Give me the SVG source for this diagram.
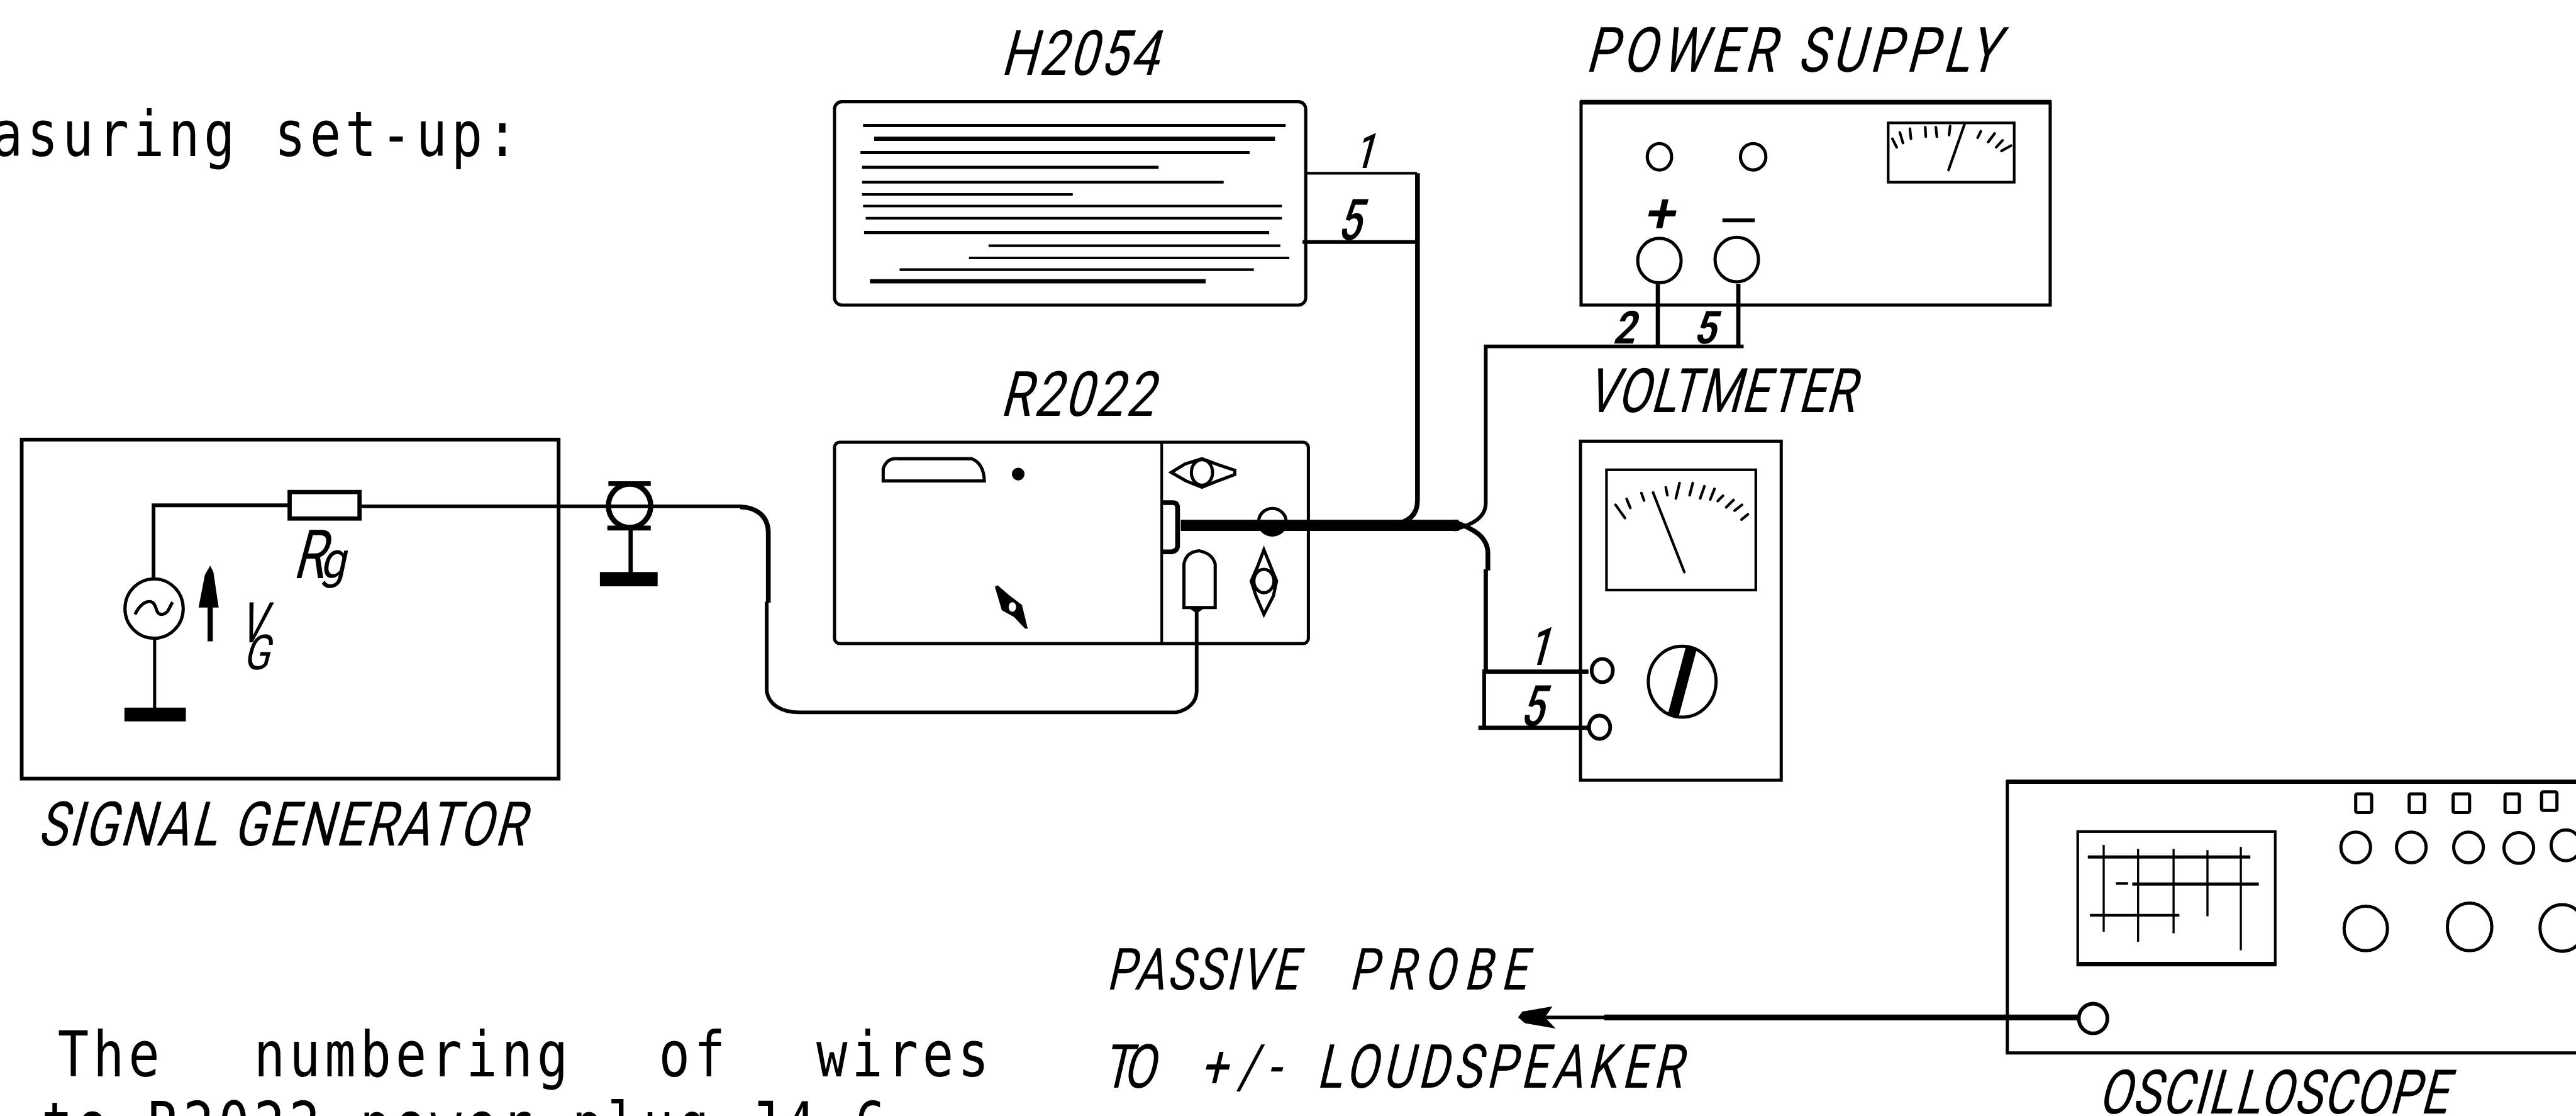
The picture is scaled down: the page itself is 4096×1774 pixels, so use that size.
<svg xmlns="http://www.w3.org/2000/svg" width="4096" height="1774" viewBox="0 0 4096 1774">
<style>
.o{fill:none;stroke:#000;stroke-width:6}
.w{fill:none;stroke:#000;stroke-width:7}
.f{fill:#000;stroke:none}
.l{stroke:#000;stroke-width:5;fill:none}
.t{stroke:#000;stroke-width:5;fill:none;stroke-linecap:round}
.hw{font-family:Roboto,"Liberation Sans",Arial,sans-serif;fill:#000}
.m{font-family:"DejaVu Sans Mono",monospace;font-size:111px;letter-spacing:9.1px;fill:#000}
</style>
<rect width="4096" height="1774" fill="#fff"/>
<g transform="scale(0.84193)">
<g id="notes" transform="scale(.88,1.06)">
<text class="m" x="-18" y="278.3">asuring set-up:</text>
<text class="m" y="1917"><tspan x="124">The</tspan> <tspan x="545">numbering</tspan> <tspan x="1414">of</tspan> <tspan x="1752">wires</tspan></text>
<text class="m" x="89" y="2042.5">to R2022 power plug J4 6</text>
</g>
<g id="connectors">
<path class="w" d="M290 1095V954H547"/>
<path class="w" stroke-width="6" d="M679 956H1400"/>
<path d="M1398 957C1430 958 1451 975 1451 1006V1138" fill="none" stroke="#000" stroke-width="9"/>
<path d="M1448 1136V1305C1452 1330 1475 1345 1510 1345H2222C2245 1340 2260 1325 2260 1305V1150" fill="none" stroke="#000" stroke-width="7"/>
<path d="M2464 327H2676" fill="none" stroke="#000" stroke-width="5"/>
<path d="M2460 457H2676" class="w"/>
<path d="M2677 327V945Q2677 985 2630 990" fill="none" stroke="#000" stroke-width="9"/>
<path d="M2230 992H2755" fill="none" stroke="#000" stroke-width="21"/>
<path class="w" stroke-width="8" d="M2745 1000C2785 990 2806 975 2806 950V654H3293"/>
<path d="M3131 654V536M3283 654V536" fill="none" stroke="#000" stroke-width="8"/>
<path d="M2745 985C2785 998 2810 1015 2810 1045V1077" fill="none" stroke="#000" stroke-width="9"/>
<path d="M2806 1075V1268H3000" fill="none" stroke="#000" stroke-width="8"/>
<path d="M2803 1264V1374" fill="none" stroke="#000" stroke-width="7"/>
<path d="M2792 1374H3000" fill="none" stroke="#000" stroke-width="8"/>
<path d="M2910 1921H3040" fill="none" stroke="#000" stroke-width="7"/>
<path d="M3030 1921H3925" fill="none" stroke="#000" stroke-width="11"/>
<path class="f" d="M2867 1921L2875 1910L2932 1900L2918 1921L2938 1942L2880 1932Z"/>
</g>
<g id="signal-generator">
<rect class="w" x="41" y="830" width="1014" height="640"/>
<rect x="547" y="929" width="132" height="50" fill="#fff" stroke="#000" stroke-width="8"/>
<ellipse class="o" cx="291" cy="1149" rx="55" ry="56" stroke-width="7"/>
<path d="M255 1160C265 1140 275 1135 285 1136C298 1140 292 1160 305 1160C318 1160 320 1145 326 1137" fill="none" stroke="#000" stroke-width="6"/>
<path d="M292 1205V1340" fill="none" stroke="#000" stroke-width="6"/>
<rect class="f" x="235" y="1336" width="116" height="26"/>
<path class="f" d="M397 1068L403 1080L413 1147H402V1211H392V1147H375L387 1085Z"/>
<text class="hw" transform="translate(552,1091) skewX(-15) scale(.76,1)" font-size="128">R</text>
<text class="hw" transform="translate(604,1090) skewX(-12) scale(.9,1)" font-size="96">g</text>
<text class="hw" transform="translate(450,1213) skewX(-15) scale(.72,1)" font-size="106">V</text>
<text class="hw" transform="translate(458,1264) skewX(-15) scale(.8,1)" font-size="92">G</text>
</g>
<g id="bnc-connector">
<ellipse cx="1189" cy="955" rx="40" ry="41" fill="none" stroke="#000" stroke-width="10"/>
<path d="M1149 913H1229M1147 997H1229" fill="none" stroke="#000" stroke-width="9"/>
<path d="M1191 1000V1085" fill="none" stroke="#000" stroke-width="8"/>
<rect class="f" x="1133" y="1080" width="109" height="27"/>
</g>
<text class="hw" transform="translate(70,1596) skewX(-15) scale(.8,1)" font-size="116" textLength="1150">SIGNAL GENERATOR</text>
<g id="h2054">
<text class="hw" transform="translate(1889,141) skewX(-15) scale(.8,1)" font-size="118" textLength="371">H2054</text>
<rect class="o" x="1576" y="192" width="890" height="384" rx="14"/>
<path fill="none" stroke="#000" stroke-width="6" d="M1630 237H2428M1625 288H2360M1628 316H2188M1632 439H2397"/>
<path fill="none" stroke="#000" stroke-width="8" d="M1651 262H2408M1643 531H2277"/>
<path fill="none" stroke="#000" stroke-width="5" d="M1628 344H2311M1628 367H2026M1630 389H2421M1635 412H2421M1867 464H2418M1830 487H2435M1699 509H2368"/>
<text class="hw" transform="translate(2556,317) skewX(-15) scale(.72,1)" font-size="92" font-weight="500">1</text>
<text class="hw" transform="translate(2525,452) skewX(-15) scale(.72,1)" font-size="108" font-weight="500">5</text>
</g>
<g id="r2022">
<text class="hw" transform="translate(1888,785) skewX(-15) scale(.8,1)" font-size="118" textLength="362">R2022</text>
<rect class="o" x="1576" y="835" width="895" height="380" rx="10"/>
<path class="l" d="M2194 835V1215"/>
<path class="o" stroke-width="8" d="M1668 908V885Q1675 864 1695 866H1835Q1858 875 1859 908Z"/>
<ellipse class="f" cx="1923" cy="895" rx="12" ry="12"/>
<path class="f" d="M1879 1108L1884 1105L1906 1124L1930 1142L1941 1187L1936 1187L1915 1165L1892 1152Z"/>
<ellipse cx="1912" cy="1146" rx="7" ry="9" fill="#fff"/>
<path class="o" stroke-width="7" d="M2212 892L2238 876L2270 866L2302 878L2332 888V896L2300 908L2270 920L2240 908Z"/>
<ellipse class="o" cx="2270" cy="892" rx="20" ry="24" stroke-width="7"/>
<path d="M2196 949H2215Q2224 949 2224 960V1030Q2224 1040 2212 1042H2196" fill="none" stroke="#000" stroke-width="9"/>
<ellipse class="o" cx="2403" cy="985" rx="26" ry="25"/>
<path class="f" d="M2380 1000L2403 1013L2426 1000Z"/>
<path class="o" stroke-width="8" d="M2236 1147V1065Q2240 1042 2265 1040Q2290 1045 2295 1065V1147Z"/>
<path class="f" d="M2245 1148L2260 1158L2275 1148Z"/>
<path class="o" stroke-width="7" d="M2387 1038L2402 1075L2411 1097L2405 1125L2387 1160L2372 1125L2363 1097L2375 1070Z"/>
<ellipse class="o" cx="2387" cy="1097" rx="19" ry="22" stroke-width="7"/>
</g>
<g id="power-supply">
<text class="hw" transform="translate(2993,135) skewX(-15) scale(.8,1)" font-size="118" textLength="975">POWER SUPPLY</text>
<rect class="o" x="2986" y="193" width="886" height="383"/>
<path d="M2984 193H3874" stroke="#000" stroke-width="9"/>
<ellipse class="o" cx="3134" cy="296" rx="23" ry="25"/>
<ellipse class="o" cx="3311" cy="296" rx="24" ry="25"/>
<text class="hw" transform="translate(3103,438) skewX(-12)" font-size="105" font-weight="500">+</text>
<path d="M3253 416H3314" stroke="#000" stroke-width="7" fill="none"/>
<ellipse class="o" cx="3134" cy="492" rx="41" ry="42"/>
<ellipse class="o" cx="3280" cy="490" rx="41" ry="42"/>
<rect class="l" x="3566" y="232" width="238" height="112"/>
<path class="t" stroke-width="5" d="M3710 235L3680 321"/>
<path class="t" stroke-width="4" d="M3574 262L3582 278M3588 250L3594 270M3607 243L3609 262M3636 240L3637 258M3656 240L3658 258M3683 238L3681 255M3741 248L3735 260M3767 252L3755 268M3782 265L3770 278M3798 275L3780 285"/>
<text class="hw" transform="translate(3045,649) skewX(-15) scale(.85,1)" font-size="86" font-weight="700">2</text>
<text class="hw" transform="translate(3198,649) skewX(-15) scale(.85,1)" font-size="86" font-weight="700">5</text>
</g>
<g id="voltmeter">
<text class="hw" transform="translate(2995,778) skewX(-15) scale(.78,1)" font-size="116" textLength="650">VOLTMETER</text>
<rect class="o" x="2985" y="833" width="379" height="640"/>
<rect class="l" x="3034" y="887" width="282" height="227"/>
<path class="t" stroke-width="6" d="M3122 930L3181 1080"/>
<path class="t" stroke-width="4" d="M3051 953L3069 978M3072 942L3079 959M3100 931L3105 945M3146 920L3149 935M3172 912L3165 941M3197 912L3191 935M3219 918L3211 941M3238 923L3230 943M3254 936L3244 946M3274 944L3260 958M3290 953L3276 964M3301 971L3289 981"/>
<ellipse cx="3026" cy="1266" rx="20" ry="22" fill="#fff" stroke="#000" stroke-width="7"/>
<ellipse cx="3021" cy="1373" rx="20" ry="22" fill="#fff" stroke="#000" stroke-width="7"/>
<ellipse class="o" cx="3177" cy="1287" rx="64" ry="67" stroke-width="7"/>
<path d="M3194 1224L3160 1351" fill="none" stroke="#000" stroke-width="21"/>
<text class="hw" transform="translate(2884,1255) skewX(-15) scale(.72,1)" font-size="100" font-weight="500">1</text>
<text class="hw" transform="translate(2870,1371) skewX(-15) scale(.72,1)" font-size="108" font-weight="500">5</text>
</g>
<g id="oscilloscope">
<text class="hw" transform="translate(3961,2102) skewX(-15) scale(.78,1)" font-size="116" textLength="846">OSCILLOSCOPE</text>
<rect class="o" x="3791" y="1476" width="1120" height="512"/>
<path d="M3789 1476H4865" stroke="#000" stroke-width="8"/>
<rect class="l" x="3924" y="1570" width="373" height="252"/>
<path d="M3922 1820H4299" stroke="#000" stroke-width="8"/>
<path fill="none" stroke="#000" stroke-width="6" d="M3943 1618H4250M4027 1669H4266"/>
<path fill="none" stroke="#000" stroke-width="5" d="M3947 1728H4116M3996 1668H4019"/>
<path fill="none" stroke="#000" stroke-width="4" d="M3973 1595V1759M4038 1603V1778M4105 1603V1762M4169 1605V1730M4232 1599V1794"/>
<rect class="o" x="4449" y="1499" width="30" height="35" rx="3"/>
<rect class="o" x="4550" y="1499" width="29" height="35" rx="3"/>
<rect class="o" x="4633" y="1499" width="31" height="35" rx="3"/>
<rect class="o" x="4731" y="1499" width="27" height="35" rx="3"/>
<rect class="o" x="4800" y="1495" width="29" height="35" rx="3"/>
<ellipse class="o" cx="4449" cy="1600" rx="28" ry="29"/>
<ellipse class="o" cx="4554" cy="1600" rx="28" ry="29"/>
<ellipse class="o" cx="4662" cy="1600" rx="28" ry="29"/>
<ellipse class="o" cx="4757" cy="1601" rx="28" ry="29"/>
<ellipse class="o" cx="4846" cy="1596" rx="28" ry="29"/>
<ellipse class="o" cx="4468" cy="1753" rx="41" ry="42"/>
<ellipse class="o" cx="4664" cy="1750" rx="42" ry="45"/>
<ellipse class="o" cx="4839" cy="1752" rx="42" ry="44"/>
<ellipse cx="3953" cy="1923" rx="27" ry="28" fill="#fff" stroke="#000" stroke-width="7"/>
</g>
<g id="probe-labels">
<text class="hw" transform="translate(2089,1868) skewX(-13) scale(.78,1)" font-size="110"><tspan x="0" textLength="463">PASSIVE</tspan> <tspan x="587" textLength="430">PROBE</tspan></text>
<text class="hw" transform="translate(2081,2054) skewX(-13) scale(.78,1)" font-size="115"><tspan x="0" textLength="128">TO</tspan> <tspan x="237" textLength="193">+/-</tspan> <tspan x="519" textLength="885">LOUDSPEAKER</tspan></text>
</g>
</g>
</svg>
